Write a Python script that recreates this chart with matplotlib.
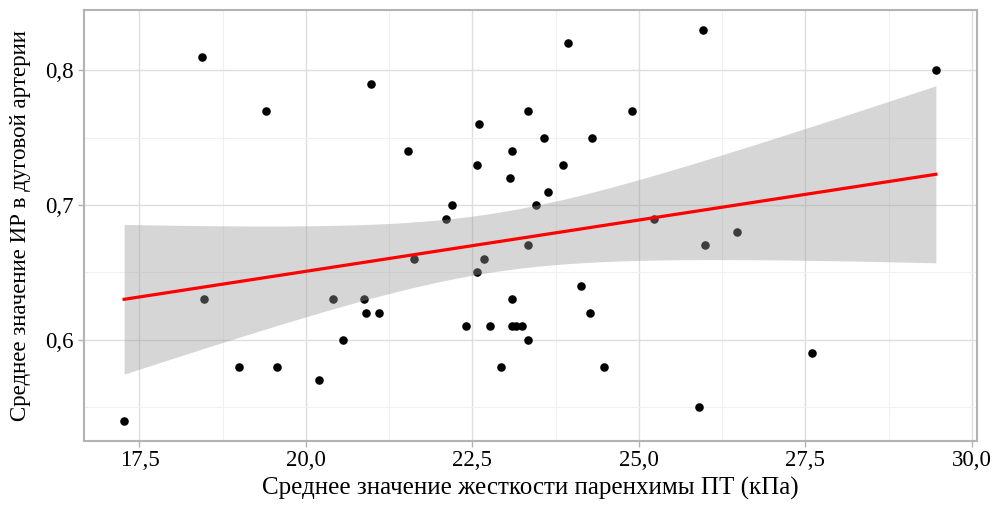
import numpy as np
import matplotlib
matplotlib.use('Agg')
import matplotlib.pyplot as plt
from matplotlib.ticker import FuncFormatter, MultipleLocator

# stiffness (kPa) and RI values
stiff = [18.44, 19.40, 20.97, 21.54, 23.93, 23.33, 24.90, 22.60, 23.57, 24.30,
         23.10, 22.57, 23.86, 23.07, 23.63, 22.20, 23.46, 22.10, 25.23, 23.33,
         25.96, 29.46, 26.47, 26.00, 21.63, 18.47, 20.40, 20.87, 20.90, 21.10,
         20.56, 19.00, 19.57, 20.20, 17.27, 22.67, 22.57, 24.13, 23.10, 24.27,
         22.40, 22.76, 23.10, 23.15, 23.24, 23.33, 22.93, 24.47, 25.90, 27.60]
ri = [0.81, 0.77, 0.79, 0.74, 0.82, 0.77, 0.77, 0.76, 0.75, 0.75,
      0.74, 0.73, 0.73, 0.72, 0.71, 0.70, 0.70, 0.69, 0.69, 0.67,
      0.83, 0.80, 0.68, 0.67, 0.66, 0.63, 0.63, 0.63, 0.62, 0.62,
      0.60, 0.58, 0.58, 0.57, 0.54, 0.66, 0.65, 0.64, 0.63, 0.62,
      0.61, 0.61, 0.61, 0.61, 0.61, 0.60, 0.58, 0.58, 0.55, 0.59]

x = np.array(stiff)
y = np.array(ri)
n = len(x)

# linear fit + 95% confidence band (like geom_smooth(method='lm'))
b, a = np.polyfit(x, y, 1)
resid = y - (a + b * x)
s = np.sqrt(np.sum(resid ** 2) / (n - 2))
t = 2.011  # t(0.975, df=48)
xs = np.linspace(x.min(), x.max(), 200)
ys = a + b * xs
se = s * np.sqrt(1.0 / n + (xs - x.mean()) ** 2 / np.sum((x - x.mean()) ** 2))

plt.rcParams['font.family'] = ['Liberation Serif', 'DejaVu Serif']

fig = plt.figure(figsize=(9.96, 5.05), dpi=100)
ax = fig.add_axes([83.5 / 996, 1 - 440.5 / 505, (976.5 - 83.5) / 996, (440.5 - 10) / 505])

ax.scatter(x, y, s=38, color='black', zorder=3, linewidths=0)
ax.fill_between(xs, ys - t * se, ys + t * se, color='#999999', alpha=0.4, linewidth=0, zorder=4)
ax.plot(xs, ys, color='red', lw=2.3, zorder=5)

ax.set_xlim(16.66, 30.07)
ax.set_ylim(0.5255, 0.8445)
ax.xaxis.set_major_locator(MultipleLocator(2.5))
ax.xaxis.set_minor_locator(MultipleLocator(1.25))
ax.yaxis.set_major_locator(MultipleLocator(0.1))
ax.yaxis.set_minor_locator(MultipleLocator(0.05))
ax.xaxis.set_major_formatter(FuncFormatter(lambda v, p: ('%.1f' % v).replace('.', ',')))
ax.yaxis.set_major_formatter(FuncFormatter(lambda v, p: ('%.1f' % v).replace('.', ',')))

ax.grid(which='major', color='#DEDEDE', lw=1.0, zorder=0)
ax.grid(which='minor', color='#F0F0F0', lw=0.8, zorder=0)
ax.set_axisbelow(True)
for sp in ax.spines.values():
    sp.set_color('#B3B3B3')
    sp.set_linewidth(1.5)
ax.tick_params(which='major', length=4, color='#B3B3B3', width=1, labelsize=16.5, labelcolor='black', pad=3)
ax.tick_params(which='minor', length=0)

ax.set_xlabel('Среднее значение жесткости паренхимы ПТ (кПа)', fontsize=18, labelpad=4)
ax.set_ylabel('Среднее значение ИР в дуговой артерии', fontsize=16.5, labelpad=10)

fig.savefig('out.png', dpi=100)
